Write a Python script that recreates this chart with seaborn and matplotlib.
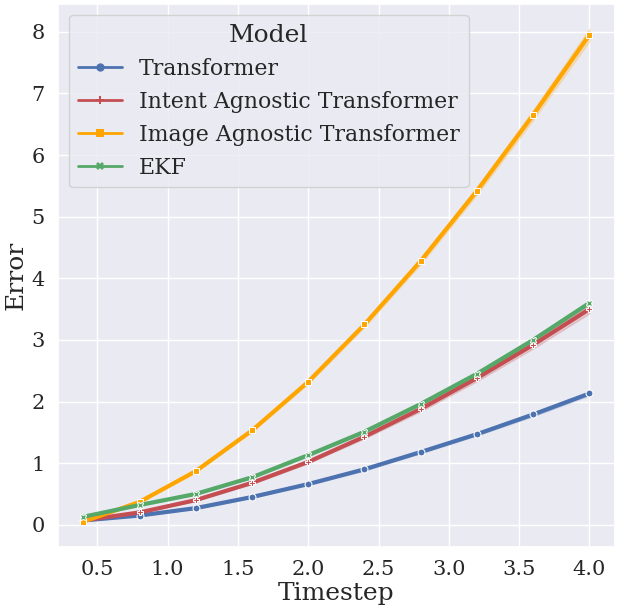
import numpy as np
import pandas as pd
import seaborn as sns
import matplotlib.pyplot as plt
from matplotlib.ticker import MultipleLocator

timesteps = [0.4, 0.8, 1.2, 1.6, 2.0, 2.4, 2.8, 3.2, 3.6, 4.0]
models = ["Transformer", "Intent Agnostic Transformer", "Image Agnostic Transformer", "EKF"]

# mean error per timestep
transformer = [0.07, 0.15, 0.27, 0.45, 0.66, 0.90, 1.18, 1.47, 1.79, 2.13]
intent_agnostic = [0.07, 0.20, 0.40, 0.68, 1.02, 1.43, 1.88, 2.38, 2.92, 3.50]
image_agnostic = [0.05, 0.37, 0.87, 1.53, 2.32, 3.25, 4.28, 5.42, 6.65, 7.95]
ekf = [0.13, 0.32, 0.50, 0.77, 1.13, 1.51, 1.96, 2.45, 3.00, 3.60]

# half width of the shaded band
transformer_spread = [0.01, 0.01, 0.01, 0.01, 0.01, 0.02, 0.02, 0.02, 0.03, 0.03]
intent_spread = [0.01, 0.01, 0.01, 0.02, 0.02, 0.03, 0.04, 0.05, 0.06, 0.07]
image_spread = [0.01, 0.01, 0.02, 0.02, 0.03, 0.04, 0.05, 0.06, 0.08, 0.10]
ekf_spread = [0.01, 0.01, 0.01, 0.01, 0.02, 0.02, 0.02, 0.03, 0.03, 0.03]

means = [transformer, intent_agnostic, image_agnostic, ekf]
spreads = [transformer_spread, intent_spread, image_spread, ekf_spread]

rows = []
for name, m, s in zip(models, means, spreads):
    for t, v, d in zip(timesteps, m, s):
        for off in (-d, 0.0, d):
            rows.append({"Timestep": t, "Error": v + off, "Model": name})
df = pd.DataFrame(rows)

sns.set_theme(style="darkgrid")
plt.rcParams["font.family"] = ["DejaVu Serif"]

deep = sns.color_palette("deep")
palette = [deep[0], deep[3], "orange", deep[2]]

fig = plt.figure(figsize=(6.2, 6.06), dpi=100)
ax = fig.add_axes([0.0935, 0.0974, 0.898, 0.896])
sns.lineplot(data=df, x="Timestep", y="Error", hue="Model", style="Model",
             hue_order=models, style_order=models, palette=palette,
             markers=["o", "P", "s", "X"], dashes=False, linewidth=3,
             markersize=5, errorbar=("pi", 100), ax=ax)

ax.set_xlabel("Timestep", fontsize=18, labelpad=2)
ax.set_ylabel("Error", fontsize=18, labelpad=3)
ax.tick_params(labelsize=15)
ax.xaxis.set_major_locator(MultipleLocator(0.5))
ax.set_yticks(range(0, 9))
leg = ax.legend(title="Model", loc="upper left", fontsize=15.8, title_fontsize=18)
for h in leg.legend_handles:
    h.set_linewidth(2)
    h.set_markersize(6)
    h.set_markeredgewidth(0)

fig.savefig("out.png", dpi=100)
